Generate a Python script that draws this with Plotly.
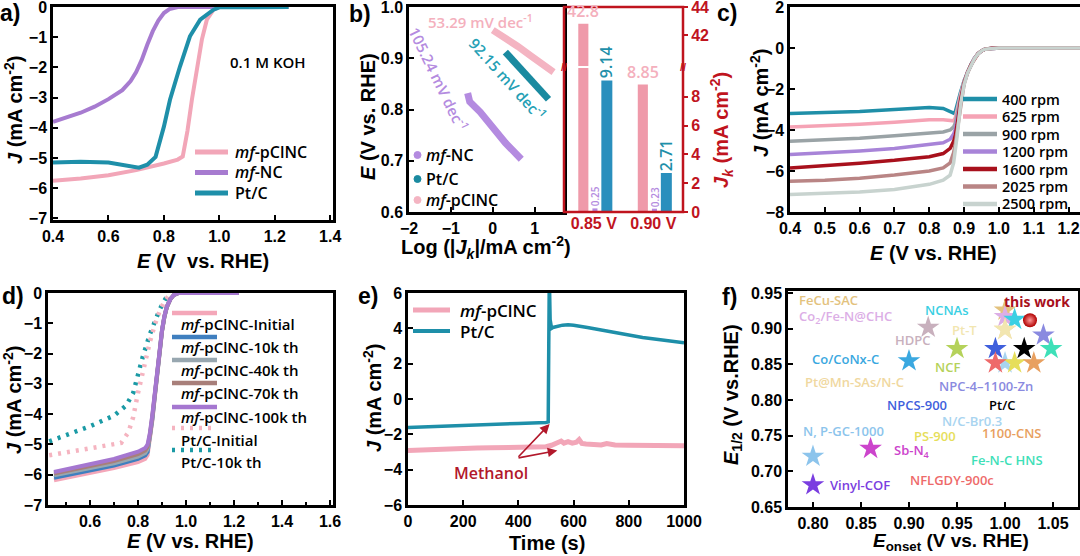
import plotly.graph_objects as go

W, H = 1080, 556
TICKF = "Liberation Sans, Arial, sans-serif"
TXTF = "Open Sans, Noto Sans, sans-serif"
RED = "#c0141e"

# ================= DATA =================
# (a) ORR LSV curves, 0.1 M KOH
a_pcl_E = [0.40, 0.50, 0.60, 0.70, 0.80, 0.85, 0.868, 0.885, 0.901, 0.919, 0.937, 0.955, 0.979, 1.00, 1.10, 1.25]
a_pcl_J = [-5.75, -5.68, -5.57, -5.40, -5.18, -5.05, -4.95, -4.10, -3.07, -1.97, -1.08, -0.42, -0.09, 0, 0, 0]
a_nc_E = [0.40, 0.45, 0.50, 0.55, 0.60, 0.65, 0.68, 0.70, 0.72, 0.74, 0.76, 0.78, 0.80, 0.82, 0.85, 0.90, 1.00]
a_nc_J = [-3.80, -3.65, -3.50, -3.30, -3.05, -2.75, -2.45, -2.15, -1.75, -1.25, -0.80, -0.45, -0.20, -0.07, 0, 0, 0]
a_ptc_E = [0.40, 0.50, 0.60, 0.65, 0.71, 0.74, 0.77, 0.80, 0.822, 0.858, 0.894, 0.931, 0.979, 1.00, 1.10, 1.25]
a_ptc_J = [-5.15, -5.12, -5.15, -5.22, -5.32, -5.22, -4.96, -3.96, -3.07, -1.97, -0.97, -0.42, -0.09, -0.01, 0, 0]

# (b) Tafel plots
b_pcl_logj = [0.0, 0.3, 0.6, 0.9, 1.2, 1.45]
b_pcl_E = [0.955, 0.940, 0.923, 0.905, 0.888, 0.873]
b_ptc_logj = [0.3, 0.6, 0.9, 1.1, 1.33]
b_ptc_E = [0.912, 0.886, 0.857, 0.838, 0.820]
b_nc_logj = [-0.60, -0.55, -0.3, 0.0, 0.3, 0.68]
b_nc_E = [0.832, 0.815, 0.795, 0.765, 0.735, 0.703]
# (b) kinetic current densities
b_cats = ["0.85 V", "0.90 V"]
b_jk_pcl = [42.8, 8.85]
b_jk_nc = [0.25, 0.23]
b_jk_ptc = [9.14, 2.71]

# (c) LSV at different rotation rates
c_rpm = ["400 rpm", "625 rpm", "900 rpm", "1200 rpm", "1600 rpm", "2025 rpm", "2500 rpm"]
c_E = [0.40, 0.50, 0.60, 0.70, 0.80, 0.84, 0.86, 0.87, 0.875, 0.88, 0.89, 0.90, 0.91, 0.92, 0.93, 0.94, 0.95, 0.96, 0.98, 1.00, 1.10, 1.25]
c_J = [
    [-3.20, -3.15, -3.10, -3.00, -2.90, -2.95, -3.10, -3.18, -3.10, -2.75, -2.15, -1.60, -1.15, -0.80, -0.50, -0.28, -0.14, -0.06, -0.01, 0, 0, 0],
    [-3.85, -3.80, -3.72, -3.62, -3.50, -3.50, -3.55, -3.55, -3.40, -3.00, -2.25, -1.62, -1.15, -0.80, -0.50, -0.28, -0.14, -0.06, -0.01, 0, 0, 0],
    [-4.55, -4.48, -4.40, -4.28, -4.15, -4.10, -4.00, -3.85, -3.65, -3.25, -2.35, -1.65, -1.15, -0.80, -0.50, -0.28, -0.14, -0.06, -0.01, 0, 0, 0],
    [-5.20, -5.12, -5.02, -4.90, -4.72, -4.62, -4.45, -4.20, -3.95, -3.50, -2.45, -1.70, -1.18, -0.81, -0.50, -0.28, -0.14, -0.06, -0.01, 0, 0, 0],
    [-5.85, -5.75, -5.62, -5.48, -5.30, -5.15, -4.90, -4.55, -4.25, -3.75, -2.55, -1.72, -1.20, -0.82, -0.51, -0.28, -0.14, -0.06, -0.01, 0, 0, 0],
    [-6.50, -6.45, -6.35, -6.20, -6.00, -5.85, -5.60, -5.10, -4.65, -4.05, -2.65, -1.75, -1.20, -0.82, -0.51, -0.28, -0.14, -0.06, -0.01, 0, 0, 0],
    [-7.15, -7.10, -7.02, -6.90, -6.65, -6.45, -6.20, -5.60, -5.00, -4.30, -2.75, -1.80, -1.22, -0.83, -0.52, -0.29, -0.14, -0.06, -0.01, 0, 0, 0],
]

# (d) stability (cycling)
d_names = ["mf-pClNC-Initial", "mf-pClNC-10k th", "mf-pClNC-40k th", "mf-pClNC-70k th", "mf-pClNC-100k th"]
d_E = [0.45, 0.50, 0.60, 0.70, 0.80, 0.83, 0.84, 0.85, 0.86, 0.87, 0.88, 0.89, 0.90, 0.91, 0.92, 0.935, 0.95, 0.97, 1.00, 1.10, 1.22]
d_J = [
    [-6.18, -6.10, -5.95, -5.78, -5.58, -5.48, -5.35, -4.85, -4.20, -3.45, -2.65, -1.90, -1.28, -0.80, -0.48, -0.20, -0.06, 0, 0, 0, 0],
    [-6.10, -6.02, -5.88, -5.70, -5.48, -5.36, -5.25, -4.78, -4.15, -3.40, -2.62, -1.88, -1.26, -0.79, -0.47, -0.20, -0.06, 0, 0, 0, 0],
    [-6.02, -5.94, -5.80, -5.62, -5.40, -5.28, -5.15, -4.72, -4.10, -3.36, -2.58, -1.86, -1.25, -0.78, -0.46, -0.20, -0.06, 0, 0, 0, 0],
    [-5.96, -5.88, -5.74, -5.55, -5.32, -5.20, -5.08, -4.66, -4.05, -3.32, -2.55, -1.84, -1.24, -0.77, -0.46, -0.20, -0.06, 0, 0, 0, 0],
    [-5.91, -5.82, -5.66, -5.48, -5.24, -5.12, -5.00, -4.60, -4.00, -3.28, -2.52, -1.82, -1.22, -0.76, -0.45, -0.20, -0.06, 0, 0, 0, 0],
]
d_pt0_E = [0.43, 0.55, 0.65, 0.73, 0.76, 0.78, 0.80, 0.82, 0.85, 0.87, 0.89, 0.91, 0.93, 0.95]
d_pt0_J = [-5.36, -5.20, -5.07, -4.95, -4.60, -4.10, -3.30, -2.60, -1.60, -1.05, -0.60, -0.28, -0.07, 0]
d_pt10_E = [0.43, 0.50, 0.60, 0.70, 0.75, 0.78, 0.80, 0.82, 0.85, 0.87, 0.89, 0.91, 0.93]
d_pt10_J = [-4.90, -4.70, -4.40, -4.05, -3.72, -3.30, -2.70, -2.10, -1.35, -0.90, -0.55, -0.25, 0]

# (e) methanol tolerance (chronoamperometry)
e_ptc_t = [0, 100, 200, 300, 400, 500, 508, 510, 512, 515, 520, 525, 540, 560, 580, 600, 650, 700, 750, 800, 850, 900, 950, 1000]
e_ptc_J = [-1.62, -1.55, -1.48, -1.43, -1.38, -1.33, -1.30, 3.0, 7.0, 4.5, 4.0, 4.05, 4.12, 4.18, 4.20, 4.18, 4.05, 3.90, 3.75, 3.60, 3.48, 3.38, 3.28, 3.18]
e_pcl_t = [0, 50, 100, 150, 200, 250, 300, 350, 400, 450, 500, 520, 540, 555, 565, 580, 595, 610, 620, 630, 645, 660, 700, 720, 750, 800, 850, 900, 950, 1000]
e_pcl_J = [-2.92, -2.88, -2.85, -2.83, -2.80, -2.78, -2.76, -2.74, -2.73, -2.72, -2.70, -2.62, -2.48, -2.38, -2.50, -2.42, -2.50, -2.45, -2.30, -2.52, -2.55, -2.58, -2.60, -2.52, -2.60, -2.62, -2.63, -2.64, -2.65, -2.65]
e_arrow_tail = (395, -3.35)
e_arrow_heads = [(513, -1.42), (541, -2.92)]

# (f) comparison of E_onset vs E_1/2
f_names = ["FeCu-SAC", "Co<sub>2</sub>/Fe-N@CHC", "NCNAs", "HDPC", "Pt@Mn-SAs/N-C", "Pt-T", "NCF", "Co/CoNx-C",
           "NPC-4\u20131100-Zn", "NPCS-900", "Pt/C", "N/C-Br0.3", "N, P-GC-1000", "PS-900", "1100-CNS",
           "Sb-N<sub>4</sub>", "Fe-N-C HNS", "NFLGDY-900c", "Vinyl-COF"]
f_onset = [1.00, 1.00, 1.01, 0.92, 1.00, 1.00, 0.95, 0.90, 1.04, 0.99, 1.02, 1.00, 0.80, 1.01, 1.03, 0.86, 1.048, 0.99, 0.80]
f_half = [0.926, 0.917, 0.913, 0.902, 0.899, 0.899, 0.872, 0.855, 0.891, 0.872, 0.872, 0.852, 0.721, 0.852, 0.852, 0.732, 0.872, 0.852, 0.681]
f_this_onset = [1.026]
f_this_half = [0.912]

# ================= STYLE =================
PINK, PURPLE, TEAL = "#f2a6b8", "#a77bd0", "#1e8fa9"
c_colors = ["#1f8fa8", "#f5a3b5", "#9aa3a6", "#a884d8", "#a8101c", "#b98585", "#c8d3cf"]
d_colors = ["#f4a7b9", "#3f7fbf", "#98a7b0", "#a87f7a", "#a577d0"]
f_colors = ["#e3c27e", "#dcaee6", "#3ad0e3", "#c8b0bd", "#f0d8a0", "#f2e6b0", "#b5d25a", "#3aa8e0",
            "#8a8ae0", "#3f5fdc", "#000000", "#a8d4f0", "#8cc4ec", "#e6de5a", "#e8a060",
            "#cc44cc", "#3ee0b8", "#ee6a6a", "#7a3ee0"]
f_label_pos = [(0.783, 0.940), (0.783, 0.916), (0.915, 0.926), (0.883, 0.884), (0.790, 0.825), (0.943, 0.898),
               (0.925, 0.846), (0.797, 0.858), (0.929, 0.820), (0.875, 0.793), (0.981, 0.793), (0.932, 0.771),
               (0.788, 0.757), (0.903, 0.750), (0.974, 0.754), (0.882, 0.728), (0.962, 0.716), (0.899, 0.688),
               (0.816, 0.681)]


def dx(p0, p1):
    return [p0 / W, p1 / W]


def dy(top, bottom):
    return [1 - bottom / H, 1 - top / H]


BASE = dict(showline=True, mirror=True, linecolor="black", linewidth=2.5, ticks="inside", ticklen=5,
            tickwidth=2, tickcolor="black", showgrid=False, zeroline=False, fixedrange=True, automargin=False,
            ticklabeloverflow="allow",
            tickfont=dict(family=TICKF, size=16, color="black", weight="bold"))


def axis(**kw):
    d = dict(BASE)
    d.update(kw)
    return d


fig = go.Figure()
shapes, anns = [], []


def txt(x, y, s, size, color="black", family=TXTF, weight=600, xanchor="left", yanchor="middle", angle=0):
    anns.append(dict(xref="paper", yref="paper", x=x / W, y=1 - y / H, text=s, showarrow=False,
                     font=dict(family=family, size=size, color=color, weight=weight),
                     xanchor=xanchor, yanchor=yanchor, textangle=angle))


def glyph(x0, x1, y, color, width=4.5, dash="solid"):
    shapes.append(dict(type="line", xref="paper", yref="paper", x0=x0 / W, x1=x1 / W, y0=1 - y / H,
                       y1=1 - y / H, line=dict(color=color, width=width, dash=dash)))


def title(x, y, s, angle=0, size=20):
    txt(x, y, s, size, family=TICKF, weight="bold", xanchor="center", yanchor="middle", angle=angle)


# ---------- (a) ----------
for E, J, col in [(a_nc_E, a_nc_J, PURPLE), (a_pcl_E, a_pcl_J, PINK), (a_ptc_E, a_ptc_J, TEAL)]:
    fig.add_trace(go.Scatter(x=E, y=J, mode="lines", line=dict(color=col, width=4),
                             xaxis="x", yaxis="y", showlegend=False))
for i, (lab, col) in enumerate([("<i>mf</i>-pClNC", PINK), ("<i>mf</i>-NC", PURPLE), ("Pt/C", TEAL)]):
    y = 152 + i * 20.5
    glyph(195, 228, y, col, width=5)
    txt(233, y, lab, 16)
txt(268, 62, "0.1 M KOH", 15, xanchor="center")
title(203, 261, "<i>E</i> (V  vs. RHE)")
title(13, 110, "<i>J</i> (mA cm<sup>-2</sup>)", angle=-90)
txt(10, 13, "<b>a)</b>", 23, family=TICKF, weight="bold", xanchor="center")

# ---------- (b) left ----------
for X, Y, col in [(b_pcl_logj, b_pcl_E, "#f4b4c2"), (b_ptc_logj, b_ptc_E, "#1a8aa0"), (b_nc_logj, b_nc_E, "#b48be0")]:
    fig.add_trace(go.Scatter(x=X, y=Y, mode="lines", line=dict(color=col, width=7),
                             xaxis="x2", yaxis="y2", showlegend=False))
txt(480, 22, "53.29 mV dec<sup>-1</sup>", 15, color="#f4b0bd", xanchor="center")
txt(508, 78, "92.15 mV dec<sup>-1</sup>", 15, color="#25a0b5", xanchor="center", angle=48)
txt(439, 78, "105.24 mV dec<sup>-1</sup>", 15, color="#b48be0", xanchor="center", angle=64)
for i, (lab, col) in enumerate([("<i>mf</i>-NC", "#b48be0"), ("Pt/C", "#1a8aa0"), ("<i>mf</i>-pClNC", "#f4b4c2")]):
    y = [155, 179, 200][i]
    shapes.append(dict(type="circle", xref="paper", yref="paper", x0=(414) / W, x1=(421) / W,
                       y0=1 - (y + 3.5) / H, y1=1 - (y - 3.5) / H, fillcolor=col, line=dict(color=col, width=1)))
    txt(424, y, lab, 16)
title(368, 117, "<i>E</i> (V vs. RHE)", angle=-90)
title(486, 247, "Log (|<i>J</i><sub><i>k</i></sub>|/mA cm<sup>-2</sup>)")
txt(373, 14, "<b>b)</b>", 23, family=TICKF, weight="bold", xanchor="right")

# ---------- (b) right : kinetic current bars (broken axis) ----------
b_series = [(b_jk_pcl, "#ef9aaa", -0.175, 0.17), (b_jk_nc, "#b48be0", 0.02, 0.085), (b_jk_ptc, "#2a8fbd", 0.22, 0.185)]
for vals, col, off, wid in b_series:
    xs = [i + off for i in range(len(b_cats))]
    for xa, ya in [("x3", "y3"), ("x4", "y4")]:
        fig.add_trace(go.Bar(x=xs, y=vals, width=wid, marker=dict(color=col, line=dict(width=0)),
                             xaxis=xa, yaxis=ya, showlegend=False))
for i, v in enumerate(b_jk_pcl):
    ya = "y4" if v > 10 else "y3"
    anns.append(dict(xref="x3", yref=ya, x=i - 0.175, y=v, text=f"{v:g}", showarrow=False, yanchor="bottom",
                     xanchor="center", font=dict(family=TXTF, size=16, color="#f4b0bd", weight=600)))
for i, v in enumerate(b_jk_ptc):
    anns.append(dict(xref="x3", yref="y3", x=i + 0.22, y=v, text=f"{v:.2f}", showarrow=False, yanchor="bottom",
                     xanchor="center", textangle=-90, font=dict(family=TXTF, size=16, color="#1e8fa9", weight=600)))
for i, v in enumerate(b_jk_nc):
    anns.append(dict(xref="x3", yref="y3", x=i + 0.02, y=v, text=f"{v:.2f}", showarrow=False, yanchor="bottom",
                     xanchor="center", textangle=-90, font=dict(family=TXTF, size=10, color="#b48be0", weight=600)))
shapes.append(dict(type="rect", xref="paper", yref="paper", x0=564 / W, x1=683 / W, y0=1 - 212 / H, y1=1 - 7 / H,
                   line=dict(color=RED, width=2.5), layer="above"))
for xb in (564, 683):
    txt(xb, 67, "<b>//</b>", 11, color=RED, family=TICKF, weight="bold", xanchor="center")
txt(721, 130, "<i>J</i><sub><i>k</i></sub> (mA cm<sup>-2</sup>)", 20, color=RED, family=TICKF, weight="bold",
    xanchor="center", angle=-90)

# ---------- (c) ----------
for J, col in zip(c_J, c_colors):
    fig.add_trace(go.Scatter(x=c_E, y=J, mode="lines", line=dict(color=col, width=3.5),
                             xaxis="x5", yaxis="y5", showlegend=False))
for i, (lab, col) in enumerate(zip(c_rpm, c_colors)):
    y = 99 + i * 17.5
    glyph(963, 997, y, col)
    txt(1000, y, lab, 14.5)
title(933, 253, "<i>E</i> (V vs. RHE)")
title(760, 103, "<i>J</i> (mA cm<sup>-2</sup>)", angle=-90)
txt(727, 13, "<b>c)</b>", 23, family=TICKF, weight="bold", xanchor="center")

# ---------- (d) ----------
fig.add_trace(go.Scatter(x=d_pt10_E, y=d_pt10_J, mode="lines", line=dict(color="#1a9aa5", width=4.5, dash="3px,6px"),
                         xaxis="x6", yaxis="y6", showlegend=False))
fig.add_trace(go.Scatter(x=d_pt0_E, y=d_pt0_J, mode="lines", line=dict(color="#f5b4c0", width=4.5, dash="3px,6px"),
                         xaxis="x6", yaxis="y6", showlegend=False))
for J, col in zip(d_J, d_colors):
    fig.add_trace(go.Scatter(x=d_E, y=J, mode="lines", line=dict(color=col, width=4),
                             xaxis="x6", yaxis="y6", showlegend=False))
d_line_y = [313, 337, 360, 383, 407]
d_text_y = [324, 347, 370, 393, 417]
for lab, col, ly, ty in zip(d_names, d_colors, d_line_y, d_text_y):
    glyph(172, 217, ly, col)
    txt(179, ty, lab.replace("mf", "<i>mf</i>"), 15)
glyph(172, 217, 428, "#f5b4c0", dash="3px,6px")
txt(179, 440, "Pt/C-Initial", 15)
glyph(172, 217, 450, "#1a9aa5", dash="3px,6px")
txt(179, 462, "Pt/C-10k th", 15)
title(190, 541, "<i>E</i> (V vs. RHE)")
title(12, 400, "<i>J</i> (mA cm<sup>-2</sup>)", angle=-90)
txt(13, 296, "<b>d)</b>", 23, family=TICKF, weight="bold", xanchor="center")

# ---------- (e) ----------
fig.add_trace(go.Scatter(x=e_pcl_t, y=e_pcl_J, mode="lines", line=dict(color=PINK, width=5),
                         xaxis="x7", yaxis="y7", showlegend=False))
fig.add_trace(go.Scatter(x=e_ptc_t, y=e_ptc_J, mode="lines", line=dict(color=TEAL, width=3.5),
                         xaxis="x7", yaxis="y7", showlegend=False))
for hx, hy in e_arrow_heads:
    anns.append(dict(xref="x7", yref="y7", axref="x7", ayref="y7", x=hx, y=hy, ax=e_arrow_tail[0],
                     ay=e_arrow_tail[1], text="", showarrow=True, arrowhead=2, arrowsize=1.2, arrowwidth=1.6,
                     arrowcolor="#b2182b"))
anns.append(dict(xref="x7", yref="y7", x=300, y=-4.2, text="Methanol", showarrow=False,
                 font=dict(family=TXTF, size=16, color="#b2182b", weight=600)))
glyph(413, 450, 310, PINK, width=5)
txt(458, 310, "<i>mf</i>-pClNC", 17)
glyph(413, 450, 331, TEAL, width=4)
txt(458, 331, "Pt/C", 17)
title(547, 543, "Time (s)")
title(372, 398, "<i>J</i> (mA cm<sup>-2</sup>)", angle=-90)
txt(368, 296, "<b>e)</b>", 23, family=TICKF, weight="bold", xanchor="center")

# ---------- (f) ----------
fig.add_trace(go.Scatter(x=f_onset, y=f_half, mode="markers",
                         marker=dict(symbol="star", size=17, color=f_colors, line=dict(width=0)),
                         xaxis="x8", yaxis="y8", showlegend=False))
fig.add_trace(go.Scatter(x=f_this_onset, y=f_this_half, mode="markers",
                         marker=dict(symbol="circle", size=14, color="#b00000",
                                     gradient=dict(type="radial", color="#ff9a9a"), line=dict(width=0)),
                         xaxis="x8", yaxis="y8", showlegend=False))
for name, col, (lx, ly) in zip(f_names, f_colors, f_label_pos):
    anns.append(dict(xref="x8", yref="y8", x=lx, y=ly, text=name, showarrow=False, xanchor="left",
                     font=dict(family=TXTF, size=13, color=col, weight=600)))
anns.append(dict(xref="x8", yref="y8", x=0.997, y=0.938, text="this work", showarrow=False, xanchor="left",
                 font=dict(family=TXTF, size=14, color="#a8101c", weight=700)))
title(951, 542, "<i>E</i><sub>onset</sub> (V vs. RHE)", size=19)
title(732, 395, "<i>E</i><sub>1/2</sub> (V vs.RHE)", angle=-90)
txt(729, 297, "<b>f)</b>", 23, family=TICKF, weight="bold", xanchor="center")

# ================= LAYOUT =================
red_tick = dict(family=TICKF, size=16, color=RED, weight="bold")
fig.update_layout(
    width=W, height=H, margin=dict(l=0, r=0, t=0, b=0, autoexpand=False), paper_bgcolor="white",
    plot_bgcolor="white", showlegend=False, barmode="overlay",
    xaxis=axis(domain=dx(53, 333), range=[0.4, 1.41], anchor="y", tickvals=[0.4, 0.6, 0.8, 1.0, 1.2, 1.4], tickformat=".1f"),
    yaxis=axis(domain=dy(7, 220), range=[-7.05, 0], anchor="x", dtick=1),
    xaxis2=axis(domain=dx(409, 564), range=[-2.0, 1.7], anchor="y2", tickvals=[-2, -1, 0, 1]),
    yaxis2=axis(domain=dy(7, 212), range=[0.6, 1.0], anchor="x2", tickvals=[0.6, 0.7, 0.8, 0.9, 1.0], tickformat=".1f"),
    xaxis3=dict(domain=dx(564, 683), range=[-0.5, 1.5], anchor="y3", tickvals=[0, 1], ticktext=b_cats,
                showline=False, showgrid=False, zeroline=False, ticks="", tickfont=red_tick, fixedrange=True,
                automargin=False, ticklabeloverflow="allow"),
    yaxis3=dict(domain=dy(68, 212), range=[0, 10], anchor="x3", side="right", tickvals=[0, 2, 4, 6, 8],
                showline=False, showgrid=False, zeroline=False, ticks="outside", ticklen=4, tickwidth=2,
                tickcolor=RED, tickfont=red_tick, fixedrange=True, automargin=False, ticklabeloverflow="allow"),
    xaxis4=dict(domain=dx(564, 683), range=[-0.5, 1.5], anchor="y4", visible=False, fixedrange=True,
                automargin=False),
    yaxis4=dict(domain=dy(7, 66), range=[39.8, 44], anchor="x4", side="right", tickvals=[42, 44],
                showline=False, showgrid=False, zeroline=False, ticks="outside", ticklen=4, tickwidth=2,
                tickcolor=RED, tickfont=red_tick, fixedrange=True, automargin=False, ticklabeloverflow="allow"),
    xaxis5=axis(domain=dx(790, 1080), range=[0.4, 1.233], anchor="y5", dtick=0.1, tick0=0.4, tickformat=".1f"),
    yaxis5=axis(domain=dy(7, 212), range=[-8, 2], anchor="x5", dtick=2),
    xaxis6=axis(domain=dx(48, 333), range=[0.425, 1.6125], anchor="y6", tickvals=[0.6, 0.8, 1.0, 1.2, 1.4, 1.6],
                tickformat=".1f", minor=dict(ticks="inside", ticklen=3, tickwidth=1.5, dtick=0.1, tick0=0.5)),
    yaxis6=axis(domain=dy(293, 505), range=[-7, 0], anchor="x6", dtick=1),
    xaxis7=axis(domain=dx(408, 684), range=[0, 1000], anchor="y7", dtick=200),
    yaxis7=axis(domain=dy(293, 505), range=[-6, 6], anchor="x7", dtick=2),
    xaxis8=axis(domain=dx(788, 1078), range=[0.774, 1.076], anchor="y8", tickvals=[0.80, 0.85, 0.90, 0.95, 1.00, 1.05], tickformat=".2f"),
    yaxis8=axis(domain=dy(291, 507), range=[0.65, 0.953], anchor="x8", tickvals=[0.65, 0.70, 0.75, 0.80, 0.85, 0.90, 0.95], tickformat=".2f"),
    shapes=shapes, annotations=anns,
)
fig.write_html("out.html", config={"displayModeBar": False},
               post_script="document.body.style.margin='0px';document.body.style.overflow='hidden';")
